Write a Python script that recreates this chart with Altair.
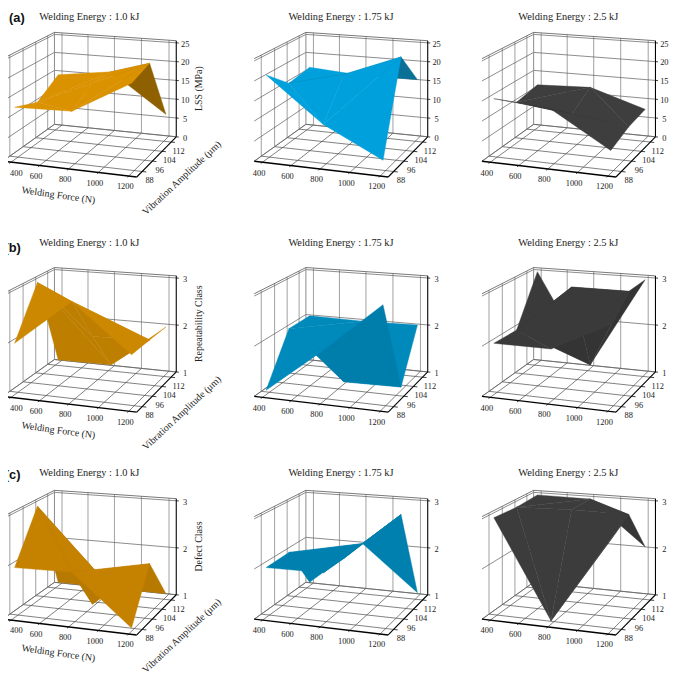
import altair as alt
import pandas as pd

# ---------- data ----------
FORCE_TICKS = [400, 600, 800, 1000, 1200]
AMP_TICKS = [88, 96, 104, 112]
FORCE_GRID = [400, 800, 1200]
AMP_GRID = [86, 100, 114]
ENERGY = ["1.0", "1.75", "2.5"]
ROW_TAGS = ["(a)", "(b)", "(c)"]
ROW_LABELS = ["LSS (MPa)", "Repeatability Class", "Defect Class"]
Z_TICKS_LSS = [0, 5, 10, 15, 20, 25]
Z_TICKS_CLASS = [1, 2, 3]

Z_A1 = [[13.1, 13.5, 21.6], [10.7, 17.0, 23.2], [14.6, 16.6, 6.5]]
Z_A2 = [[21.2, 10.25, 3.1], [15.7, 19.2, 24.8], [16.65, 15.6, 15.7]]
Z_A3 = [[15.25, 14.0, 5.45], [10.7, 8.9, 7.2], [11.85, 12.4, 7.85]]
Z_B1 = [[2.03, 2.96, 2.03], [3.01, 1.98, 2.02], [1.07, 1.08, 2.0]]
Z_B2 = [[1.09, 2.0, 2.99], [2.04, 1.05, 1.07], [2.04, 2.02, 2.04]]
Z_B3 = [[2.03, 2.03, 2.6], [2.01, 3.0, 3.0], [3.01, 1.08, 3.0]]
Z_C1 = [[2.0, 2.02, 1.06], [2.99, 1.06, 2.0], [1.08, 1.07, 1.07]]
Z_C2 = [[2.0, 2.01, 2.97], [2.02, 2.0, 2.99], [1.08, 2.03, 1.09]]
Z_C3 = [[3.0, 1.07, 2.75], [2.97, 3.0, 2.99], [3.0, 2.99, 2.06]]
SURFACES = [[Z_A1, Z_A2, Z_A3], [Z_B1, Z_B2, Z_B3], [Z_C1, Z_C2, Z_C3]]

TOP_COLORS = [["#DB9200", "#00A0DC", "#3E3E3E"],
              ["#CC8800", "#0089BB", "#3A3A3A"],
              ["#C58100", "#0080AE", "#3C3C3C"]]
UNDER_COLORS = [["#8F6000", "#0A7096", "#333333"],
                ["#BE7F00", "#007EAB", "#343434"],
                ["#B87900", "#0080AE", "#363636"]]

# view geometry
COL_X = [0.0, 254.5, 485.0]
ROW_Y = [0.0, 238.0, 463.5]
FLOOR = [(2.7, 159.0), (138.3, 175.0), (178.3, 134.3), (55.0, 121.7)]
FORCE_DOMAIN = (341.0, 1252.0)
AMP_DOMAIN = (83.93, 116.72)
UNIT_HEIGHT = 101.5
BOX_HEIGHT = 103.8

(x0, y0), (x1, y1), (x2, y2), (x3, y3) = FLOOR
dx1, dx2, sx = x1 - x2, x3 - x2, x0 - x1 + x2 - x3
dy1, dy2, sy = y1 - y2, y3 - y2, y0 - y1 + y2 - y3
det = dx1 * dy2 - dx2 * dy1
G = (sx * dy2 - dx2 * sy) / det
H = (dx1 * sy - sx * dy1) / det


def proj(col, row, u, v, height=0.0):
    w = 1 + G * u + H * v
    x = ((x1 - x0 + G * x1) * u + (x3 - x0 + H * x3) * v + x0) / w
    y = ((y1 - y0 + G * y1) * u + (y3 - y0 + H * y3) * v + y0 - height) / w
    return x + COL_X[col], y + ROW_Y[row]


def fu(f):
    return (f - FORCE_DOMAIN[0]) / (FORCE_DOMAIN[1] - FORCE_DOMAIN[0])


def fv(a):
    return (a - AMP_DOMAIN[0]) / (AMP_DOMAIN[1] - AMP_DOMAIN[0])


def zh(row, z):
    return UNIT_HEIGHT * z / 25.0 if row == 0 else UNIT_HEIGHT * (z - 1) / 2.0


rules, polys, texts = [], [], []


def rule(a, b, color, width):
    rules.append(dict(x=a[0], y=a[1], x2=b[0], y2=b[1], c=color, w=width))


FL_C, WALL_V, WALL_H = "#4a4a4a", "#a8a8a8", "#5a5a5a"
for r in range(3):
    ticks = Z_TICKS_LSS if r == 0 else Z_TICKS_CLASS
    for c in range(3):
        P = lambda u, v, h=0.0: proj(c, r, u, v, h)
        for f in FORCE_TICKS:
            u = fu(f)
            rule(P(u, 0), P(u, 1), FL_C, 0.7)
            rule(P(u, 1), P(u, 1, BOX_HEIGHT), WALL_V, 1.1)
            rule(P(u, 0), P(u, -0.03), "#111111", 0.8)
            x, y = P(u, 0)
            texts.append(dict(t=str(f), x=max(x - 3.5, 16.5), y=y + 10.5, kind="tick"))
        for a in AMP_TICKS:
            v = fv(a)
            rule(P(0, v), P(1, v), FL_C, 0.7)
            rule(P(0, v), P(0, v, BOX_HEIGHT), WALL_V, 1.1)
            rule(P(1, v), P(1.03, v), "#111111", 0.8)
            x, y = P(1, v)
            texts.append(dict(t=str(a), x=x + 7.5, y=y + 8.7, kind="tick"))
        for z in ticks:
            h = zh(r, z)
            rule(P(0, 0, h), P(0, 1, h), WALL_H, 0.7)
            rule(P(0, 1, h), P(1, 1, h), WALL_H, 0.7)
            rule(P(1, 1, h), P(1.02, 1, h), "#111111", 0.8)
            x, y = P(1, 1, h)
            texts.append(dict(t=str(z), x=x + 9, y=y + 0.8, kind="tick"))
        # box edges
        rule(P(0, 1), P(1, 1), "#666666", 0.8)
        rule(P(0, 0), P(0, 1), "#666666", 0.8)
        rule(P(0, 1), P(0, 1, BOX_HEIGHT), "#888888", 1.0)
        rule(P(0, 0, BOX_HEIGHT), P(0, 1, BOX_HEIGHT), "#555555", 0.8)
        rule(P(0, 1, BOX_HEIGHT), P(1, 1, BOX_HEIGHT), "#555555", 0.8)
        rule(P(0, 0), P(1, 0), "#000000", 1.4)
        rule(P(1, 0), P(1, 1), "#000000", 1.1)
        rule(P(1, 1), P(1, 1, BOX_HEIGHT), "#000000", 1.1)

        # diamond triangulation of the 3x3 surface
        Z = SURFACES[r][c]
        tris = [((0, 0), (0, 1), (1, 0)), ((0, 1), (0, 2), (1, 2)),
                ((1, 0), (0, 1), (1, 1)), ((0, 1), (1, 2), (1, 1)),
                ((1, 0), (1, 1), (2, 1)), ((1, 1), (1, 2), (2, 1)),
                ((1, 0), (2, 1), (2, 0)), ((2, 1), (1, 2), (2, 2))]
        items = []
        for tri in tris:
            pts, depth = [], 0.0
            for (ia, jf) in tri:
                u, v = fu(FORCE_GRID[jf]), fv(AMP_GRID[ia])
                pts.append(P(u, v, zh(r, Z[ia][jf])))
                depth += (1 + G * u + H * v)
            area = ((pts[1][0] - pts[0][0]) * (pts[2][1] - pts[0][1])
                    - (pts[2][0] - pts[0][0]) * (pts[1][1] - pts[0][1]))
            items.append((depth, pts, area))
        # screen y grows downward: these triangles run counter-clockwise seen from above
        items.sort(key=lambda t: -t[0])
        for n, (_, pts, area) in enumerate(items):
            col = UNDER_COLORS[r][c] if area > 0 else TOP_COLORS[r][c]
            tid = f"{r}{c}{n:02d}"
            for k, p in enumerate(pts + [pts[0]]):
                polys.append(dict(tid=tid, k=k, x=p[0], y=p[1], col=col))

        # panel title
        cx = (90.3, 345.0, 575.0)[c]
        cy = (13.0, 242.0, 475.0)[r]
        texts.append(dict(t=f"Welding Energy : {ENERGY[c]} kJ", x=cx, y=cy, kind="title"))
    # row furniture on the first panel
    texts.append(dict(t=ROW_TAGS[r], x=(17.0, 12.7, 12.7)[r], y=(14.0, 247.0, 477.0)[r], kind="tag"))
    texts.append(dict(t=ROW_LABELS[r], x=201.0, y=ROW_Y[r] + 85.5, kind="zlab"))
    texts.append(dict(t="Welding Force (N)", x=59.0, y=ROW_Y[r] + 193.5, kind="xlab"))
    texts.append(dict(t="Vibration Amplitude (μm)", x=184.0, y=ROW_Y[r] + 176.0, kind="ylab"))

XS = alt.Scale(domain=[8, 677])
YS = alt.Scale(domain=[677, 8])
X = alt.X("x:Q", scale=XS, axis=None)
Y = alt.Y("y:Q", scale=YS, axis=None)

rule_layer = alt.Chart(pd.DataFrame(rules)).mark_rule().encode(
    x=X, y=Y, x2="x2:Q", y2="y2:Q",
    color=alt.Color("c:N", scale=None),
    strokeWidth=alt.StrokeWidth("w:Q", scale=None),
)

surface_layer = alt.Chart(pd.DataFrame(polys)).mark_line(strokeWidth=0.4, interpolate="linear").encode(
    x=X, y=Y,
    detail="tid:N",
    order="k:Q",
    color=alt.Color("col:N", scale=None),
    fill=alt.Fill("col:N", scale=None),
)

tdf = pd.DataFrame(texts)


def text_layer(kind, size, angle=0, font="Liberation Serif", weight="normal", color="#222222"):
    return alt.Chart(tdf[tdf.kind == kind]).mark_text(
        font=font, fontSize=size, angle=angle, fontWeight=weight, color=color,
        align="center", baseline="middle",
    ).encode(x=X, y=Y, text="t:N")


chart = alt.layer(
    rule_layer,
    surface_layer,
    text_layer("tick", 8.5),
    text_layer("title", 10.5),
    text_layer("tag", 13, font="Liberation Sans", weight="bold", color="#111111"),
    text_layer("zlab", 10, angle=270),
    text_layer("xlab", 10, angle=8),
    text_layer("ylab", 10, angle=317),
).properties(width=669, height=669, padding=0,
             autosize=alt.AutoSizeParams(type="none")
).configure_view(stroke=None).configure(background="white") if False else alt.layer(
    rule_layer,
    surface_layer,
    text_layer("tick", 8.5),
    text_layer("title", 10.5),
    text_layer("tag", 13, font="Liberation Sans", weight="bold", color="#111111"),
    text_layer("zlab", 10, angle=270),
    text_layer("xlab", 10, angle=8),
    text_layer("ylab", 10, angle=317),
).properties(width=669, height=669, padding=0,
             autosize=alt.AutoSizeParams(type="none")
).configure_view(stroke=None)

chart.save("out.html", embed_options={"renderer": "svg", "actions": False})
